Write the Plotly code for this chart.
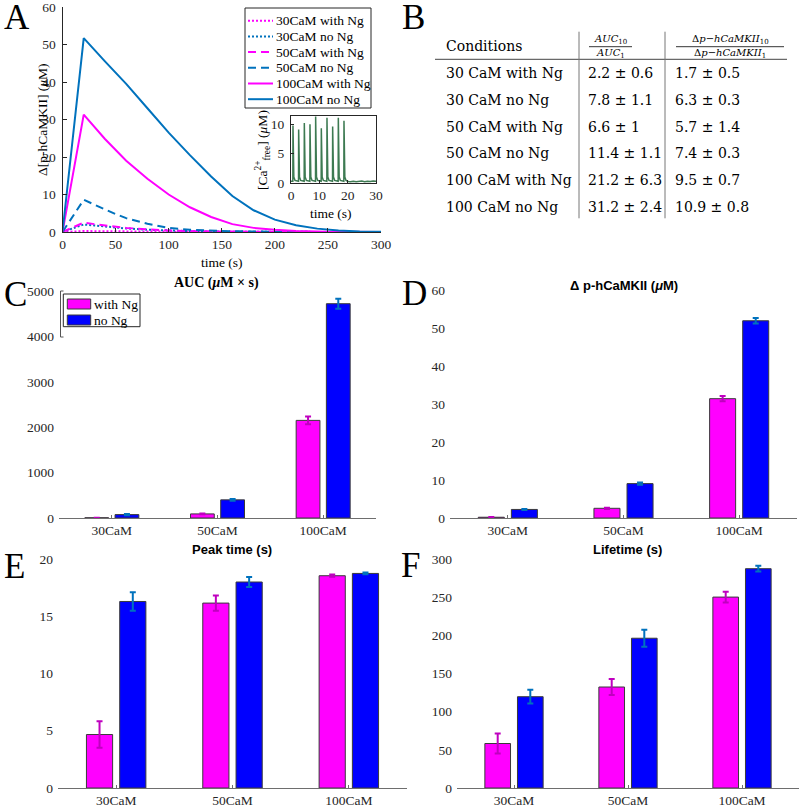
import plotly.graph_objects as go

W, H = 800, 807

def X(p):
    return p / W

def Y(p):
    return 1 - p / H

MAG = "#FF00FF"
MBLUE = "#0072BD"
BLUE = "#0000FF"
GREEN = "#3d7a52"
AX = "#262626"
SERIF = "Liberation Serif"
SANS = "Liberation Sans"

# ---------------- Panel A data ----------------
t_30_with = [0, 20, 40, 60, 100, 150, 300]
y_30_with = [0, 0.25, 0.2, 0.15, 0.05, 0.02, 0]
t_30_no = [0, 20, 30, 40, 60, 80, 100, 130, 160, 200, 300]
y_30_no = [0, 2.0, 1.75, 1.45, 0.95, 0.6, 0.35, 0.15, 0.07, 0.02, 0]
t_50_with = [0, 20, 30, 40, 60, 80, 100, 130, 160, 200, 300]
y_50_with = [0, 2.5, 2.1, 1.7, 1.1, 0.7, 0.4, 0.2, 0.1, 0.03, 0]
t_50_no = [0, 20, 30, 40, 50, 60, 80, 100, 120, 150, 200, 300]
y_50_no = [0, 8.6, 7.3, 6.0, 4.8, 3.7, 2.2, 1.1, 0.6, 0.25, 0.05, 0]
t_100_with = [0, 20, 40, 60, 80, 100, 120, 140, 160, 180, 200, 220, 250, 300]
y_100_with = [0, 31.3, 24.8, 19.0, 14.2, 10.0, 6.6, 4.0, 2.1, 1.1, 0.6, 0.3, 0.1, 0.02]
t_100_no = [0, 20, 40, 60, 80, 100, 120, 140, 160, 180, 200, 220, 240, 260, 280, 300]
y_100_no = [0, 51.7, 45.5, 39.5, 33.0, 26.5, 20.5, 14.8, 9.6, 5.8, 3.3, 1.8, 0.9, 0.4, 0.15, 0.05]

# inset: free Ca2+
ca_t = [0, 0.65, 0.7, 0.8, 1.0, 1.4, 2.2,
        2.65, 2.7, 2.8, 3.0, 3.4, 4.2,
        4.65, 4.7, 4.8, 5.0, 5.4, 6.2,
        6.65, 6.7, 6.8, 7.0, 7.4, 8.2,
        8.65, 8.7, 8.8, 9.0, 9.4, 10.2,
        10.65, 10.7, 10.8, 11.0, 11.4, 12.2,
        12.65, 12.7, 12.8, 13.0, 13.4, 14.2,
        14.65, 14.7, 14.8, 15.0, 15.4, 16.2,
        16.65, 16.7, 16.8, 17.0, 17.4, 18.2,
        18.65, 18.7, 18.8, 19.0, 19.4, 20.2,
        21, 22, 23, 24, 25, 26, 27, 28, 29, 30]
ca_v = [0.3, 0.3, 9.8, 3.0, 1.0, 0.45, 0.3,
        0.3, 9.1, 3.0, 1.0, 0.45, 0.3,
        0.3, 10.2, 3.0, 1.0, 0.45, 0.3,
        0.3, 10.0, 3.0, 1.0, 0.45, 0.3,
        0.3, 11.3, 3.0, 1.0, 0.45, 0.3,
        0.3, 9.3, 3.0, 1.0, 0.45, 0.3,
        0.3, 11.1, 3.0, 1.0, 0.45, 0.3,
        0.3, 9.6, 3.0, 1.0, 0.45, 0.3,
        0.3, 11.1, 3.0, 1.0, 0.45, 0.3,
        0.3, 10.6, 3.0, 1.0, 0.45, 0.25,
        0.2, 0.3, 0.2, 0.25, 0.35, 0.2, 0.3, 0.25, 0.35, 0.3]

# ---------------- Panel B data ----------------
conditions = ["30 CaM with Ng", "30 CaM no Ng", "50 CaM with Ng",
              "50 CaM no Ng", "100 CaM with Ng", "100 CaM no Ng"]
auc_ratio = ["2.2 ± 0.6", "7.8 ± 1.1", "6.6 ± 1", "11.4 ± 1.1", "21.2 ± 6.3", "31.2 ± 2.4"]
dp_ratio = ["1.7 ± 0.5", "6.3 ± 0.3", "5.7 ± 1.4", "7.4 ± 0.3", "9.5 ± 0.7", "10.9 ± 0.8"]

# ---------------- Bar panels data ----------------
categories = ["30CaM", "50CaM", "100CaM"]
auc_with = [5, 90, 2150]
auc_with_err = [3, 10, 85]
auc_no = [75, 400, 4720]
auc_no_err = [15, 20, 110]
dp_with = [0.2, 2.55, 31.4]
dp_with_err = [0.05, 0.15, 0.7]
dp_no = [2.25, 9.05, 51.9]
dp_no_err = [0.15, 0.3, 0.7]
peak_with = [4.67, 16.15, 18.54]
peak_with_err = [1.15, 0.67, 0.1]
peak_no = [16.29, 17.99, 18.74]
peak_no_err = [0.8, 0.43, 0.08]
life_with = [58.3, 132.3, 250.1]
life_with_err = [13, 10.5, 7]
life_no = [119.6, 196.2, 287.3]
life_no_err = [9, 11, 3.7]

fig = go.Figure()

# Panel A lines
lines_a = [
    (t_30_with, y_30_with, MAG, "2px,2px"),
    (t_30_no, y_30_no, MBLUE, "2px,2px"),
    (t_50_with, y_50_with, MAG, "8px,5px"),
    (t_50_no, y_50_no, MBLUE, "8px,5px"),
    (t_100_with, y_100_with, MAG, "solid"),
    (t_100_no, y_100_no, MBLUE, "solid"),
]
for tx, ty, col, dash in lines_a:
    fig.add_trace(go.Scatter(x=tx, y=ty, mode="lines", line=dict(color=col, width=2, dash=dash),
                             showlegend=False, xaxis="x", yaxis="y"))

fig.add_trace(go.Scatter(x=ca_t, y=ca_v, mode="lines", line=dict(color=GREEN, width=1.5),
                         showlegend=False, xaxis="x2", yaxis="y2"))

BW = 0.225
OFF = 0.143
EWITH = "#BF00BF"


def bars(xa, ya, vw, ew, vn, en):
    fig.add_trace(go.Bar(x=categories, y=vw, width=BW, offset=-OFF - BW / 2,
                         marker=dict(color=MAG, line=dict(color="#3a3a3a", width=1)),
                         error_y=dict(type="data", array=ew, color=EWITH, thickness=2, width=3),
                         showlegend=False, xaxis=xa, yaxis=ya))
    fig.add_trace(go.Bar(x=categories, y=vn, width=BW, offset=OFF - BW / 2,
                         marker=dict(color=BLUE, line=dict(color="#3a3a3a", width=1)),
                         error_y=dict(type="data", array=en, color=MBLUE, thickness=2, width=3),
                         showlegend=False, xaxis=xa, yaxis=ya))


bars("x3", "y3", auc_with, auc_with_err, auc_no, auc_no_err)
bars("x4", "y4", dp_with, dp_with_err, dp_no, dp_no_err)
bars("x5", "y5", peak_with, peak_with_err, peak_no, peak_no_err)
bars("x6", "y6", life_with, life_with_err, life_no, life_no_err)

tickfont = dict(family=SERIF, size=13.5, color=AX)

lay = dict(
    template="none",
    width=W, height=H, margin=dict(l=0, r=0, t=0, b=0, autoexpand=False),
    paper_bgcolor="white", plot_bgcolor="rgba(0,0,0,0)",
    font=dict(family=SERIF, size=13.5, color="black"),
    barmode="overlay", showlegend=False,
)

common = dict(showgrid=False, zeroline=False, tickfont=tickfont, automargin=False, ticklabeloverflow="allow")

# Panel A axes
lay["xaxis"] = dict(domain=[X(62.5), X(381)], range=[0, 300], tickvals=[0, 50, 100, 150, 200, 250, 300],
                    ticks="inside", ticklen=4, tickcolor=AX, showline=True, linecolor=AX, linewidth=1,
                    anchor="y", **common)
lay["yaxis"] = dict(domain=[Y(232), Y(7)], range=[0, 60], tickvals=[0, 10, 20, 30, 40, 50, 60],
                    ticks="inside", ticklen=4, tickcolor=AX, showline=True, linecolor=AX, linewidth=1,
                    anchor="x", ticklabelstandoff=3, **common)
# inset
lay["xaxis2"] = dict(domain=[X(291), X(376)], range=[0, 30], tickvals=[0, 10, 20, 30],
                     ticks="inside", ticklen=3, tickcolor=AX, showline=True, mirror=True, linecolor=AX,
                     linewidth=1, anchor="y2", **common)
lay["yaxis2"] = dict(domain=[Y(183), Y(116)], range=[0, 11.4], tickvals=[0, 5, 10],
                     ticks="inside", ticklen=3, tickcolor=AX, showline=True, mirror=True, linecolor=AX,
                     linewidth=1, anchor="x2", ticklabelstandoff=3, **common)


def bar_axes(n, xd, yd, yr, dt):
    lay["xaxis%d" % n] = dict(domain=[X(xd[0]), X(xd[1])], range=[-0.5, 2.5], type="category",
                              ticks="inside", ticklen=3, tickcolor="#6e6e6e", showline=True,
                              linecolor="#6e6e6e", linewidth=1, anchor="y%d" % n, **common)
    lay["yaxis%d" % n] = dict(domain=[Y(yd[0]), Y(yd[1])], range=yr, dtick=dt, ticks="",
                              showline=False, anchor="x%d" % n, ticklabelstandoff=4, **common)


bar_axes(3, (59, 376), (518, 291), [0, 5000], 1000)
bar_axes(4, (450, 797), (518, 290), [0, 60], 10)
bar_axes(5, (58, 407), (788, 559), [0, 20], 5)
bar_axes(6, (457, 799), (788, 559), [0, 300], 50)

anns = []
shapes = []


def ann(text, x, y, size=13.5, family=SERIF, xanchor="center", yanchor="middle", angle=0, color="black"):
    anns.append(dict(text=text, x=X(x), y=Y(y), xref="paper", yref="paper", showarrow=False,
                     xanchor=xanchor, yanchor=yanchor, textangle=angle, borderpad=0,
                     font=dict(family=family, size=size, color=color)))


def line(x0, y0, x1, y1, color=AX, width=1, dash="solid"):
    shapes.append(dict(type="line", xref="paper", yref="paper", x0=X(x0), y0=Y(y0), x1=X(x1), y1=Y(y1),
                       line=dict(color=color, width=width, dash=dash)))


# panel letters
for letter, x, y in [("A", 3, 17), ("B", 401, 17), ("C", 2.5, 294), ("D", 401, 293), ("E", 2.5, 566), ("F", 400, 565)]:
    ann(letter, x, y, size=35, xanchor="left")

# Panel A labels
ann("time (s)", 222, 262)
ann("Δ[p-hCaMKII] (<i>μ</i>M)", 42, 120, angle=-90)
ann("[Ca<sup>2+</sup><sub>free</sub>] (<i>μ</i>M)", 263, 150, angle=-90)
ann("time (s)", 331, 213)

# Panel A legend (manual)
shapes.append(dict(type="rect", xref="paper", yref="paper", x0=X(245), x1=X(371), y0=Y(108), y1=Y(8),
                   line=dict(color=AX, width=1), fillcolor="white", layer="below"))
leg_names = ["30CaM with Ng", "30CaM no Ng", "50CaM with Ng", "50CaM no Ng", "100CaM with Ng", "100CaM no Ng"]
for i, (nm, (_, _, col, dash)) in enumerate(zip(leg_names, lines_a)):
    yy = 20.7 + i * 15.7
    line(248, yy, 273, yy, color=col, width=2, dash=dash)
    ann(nm, 275, yy, xanchor="left")

# inset white background
shapes.append(dict(type="rect", xref="paper", yref="paper", x0=X(291), x1=X(376), y0=Y(183), y1=Y(116),
                   line=dict(width=0), fillcolor="white", layer="below"))

# Panel B table
TF = "DejaVu Serif"
ann("Conditions", 445, 45.7, size=14, family=TF, xanchor="left")
line(435, 59.3, 787, 59.3, color="#444", width=1)
line(579, 31.7, 579, 218.3, color="#777", width=1)
line(665, 31.7, 665, 218.3, color="#777", width=1)
ann("<i>AUC</i><sub>10</sub>", 610, 40, size=10, family=TF)
line(589, 46.7, 632, 46.7, color="black", width=0.8)
ann("<i>AUC</i><sub>1</sub>", 610, 53.5, size=10, family=TF)
ann("Δ<i>p</i>−<i>hCaMKII</i><sub>10</sub>", 730, 40, size=10, family=TF)
line(676, 46.7, 784, 46.7, color="black", width=0.8)
ann("Δ<i>p</i>−<i>hCaMKII</i><sub>1</sub>", 730, 53.5, size=10, family=TF)
row_y = [72.7, 100, 126.7, 153.3, 180, 207.3]
for c, a, d, yy in zip(conditions, auc_ratio, dp_ratio, row_y):
    ann(c, 445, yy, size=14, family=TF, xanchor="left")
    ann(a, 586.7, yy, size=14, family=TF, xanchor="left")
    ann(d, 674, yy, size=14, family=TF, xanchor="left")

# bar titles
ann("<b>AUC (<i>μ</i>M × s)</b>", 216, 283, size=14, family=SERIF)
ann("<b>Δ p-hCaMKII (<i>μ</i>M)</b>", 624, 285, size=13, family=SANS)
ann("<b>Peak time (s)</b>", 232, 549, size=13, family=SANS)
ann("<b>Lifetime (s)</b>", 627, 549, size=13, family=SANS)

# C legend (manual)
shapes.append(dict(type="rect", xref="paper", yref="paper", x0=X(63.3), x1=X(140), y0=Y(326.7), y1=Y(294),
                   line=dict(color=AX, width=1), fillcolor="white"))
shapes.append(dict(type="rect", xref="paper", yref="paper", x0=X(67.3), x1=X(90.7), y0=Y(309), y1=Y(299),
                   line=dict(color="#3a3a3a", width=1), fillcolor=MAG))
shapes.append(dict(type="rect", xref="paper", yref="paper", x0=X(67.3), x1=X(90.7), y0=Y(325), y1=Y(315),
                   line=dict(color="#3a3a3a", width=1), fillcolor=BLUE))
ann("with Ng", 93, 304, xanchor="left")
ann("no Ng", 93, 320.5, xanchor="left")

# small y-axis fragment at top of C
line(60.5, 291, 60.5, 337, color="#555", width=1)
line(60.5, 291, 63.5, 291, color="#555", width=1)
line(60.5, 337, 63.5, 337, color="#555", width=1)

lay["annotations"] = anns
lay["shapes"] = shapes
fig.update_layout(**lay)
fig.write_html("out.html", config={"displayModeBar": False},
               post_script="document.body.style.margin='0px';document.body.style.overflow='hidden';")
